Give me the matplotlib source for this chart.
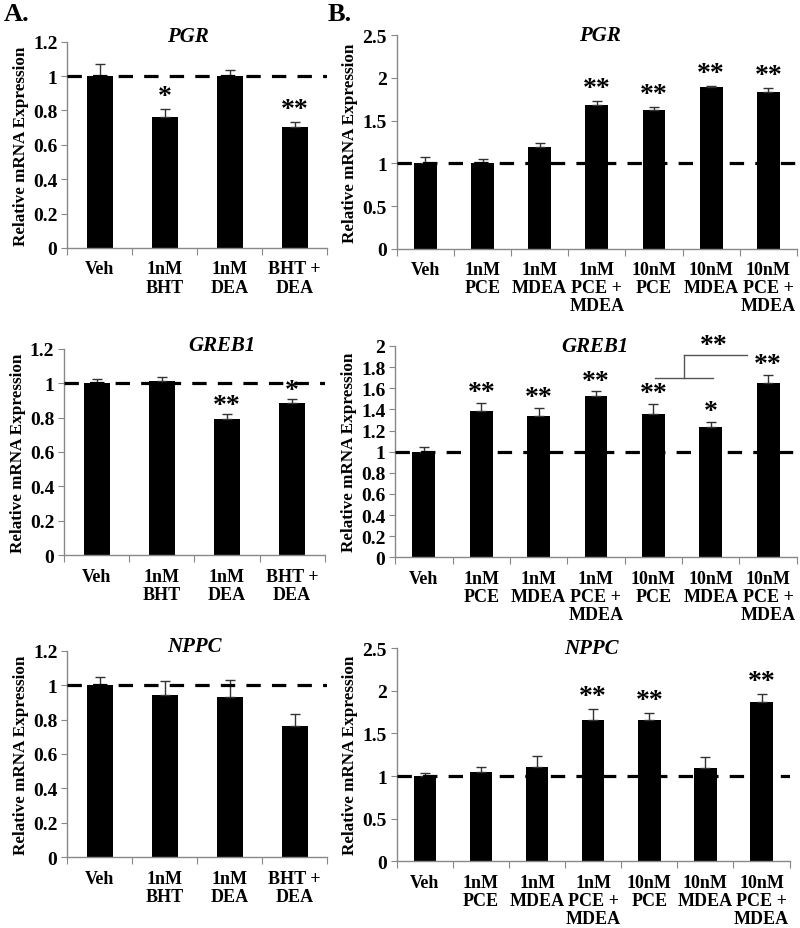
import matplotlib
matplotlib.use("Agg")
import matplotlib.pyplot as plt
import numpy as np

plt.rcParams['font.family'] = ['Liberation Serif', 'DejaVu Serif']
plt.rcParams['font.weight'] = 'bold'

# ---------------- data ----------------
cats_A = ["Veh", "1nM\nBHT", "1nM\nDEA", "BHT +\nDEA"]
cats_B = ["Veh", "1nM\nPCE", "1nM\nMDEA", "1nM\nPCE +\nMDEA",
          "10nM\nPCE", "10nM\nMDEA", "10nM\nPCE +\nMDEA"]

pgr_A = [1.00, 0.76, 1.00, 0.705]
pgr_A_err = [0.07, 0.05, 0.035, 0.028]
pgr_A_sig = ["", "*", "", "**"]

greb1_A = [1.00, 1.013, 0.79, 0.887]
greb1_A_err = [0.025, 0.025, 0.03, 0.018]
greb1_A_sig = ["", "", "**", "*"]

nppc_A = [1.00, 0.943, 0.93, 0.765]
nppc_A_err = [0.05, 0.08, 0.10, 0.068]
nppc_A_sig = ["", "", "", ""]

pgr_B = [1.00, 1.00, 1.19, 1.68, 1.62, 1.89, 1.83]
pgr_B_err = [0.077, 0.05, 0.045, 0.05, 0.045, 0.02, 0.05]
pgr_B_sig = ["", "", "", "**", "**", "**", "**"]

greb1_B = [1.00, 1.38, 1.34, 1.53, 1.355, 1.23, 1.65]
greb1_B_err = [0.045, 0.08, 0.07, 0.04, 0.10, 0.05, 0.08]
greb1_B_sig = ["", "**", "**", "**", "**", "*", "**"]

nppc_B = [1.00, 1.045, 1.11, 1.66, 1.66, 1.10, 1.875]
nppc_B_err = [0.035, 0.06, 0.125, 0.13, 0.085, 0.125, 0.085]
nppc_B_sig = ["", "", "", "**", "**", "", "**"]

fig = plt.figure(figsize=(8.0, 9.29), dpi=100)

GRAY = "#888888"
TICK_FS = 13
STAR_FS = 20


def panel(rect, cats, vals, errs, sigs, title, tpos, ymax, ystep, star_off):
    ax = fig.add_axes(rect)
    n = len(cats)
    x = np.arange(n)
    ax.bar(x, vals, width=0.4, color="black", zorder=2)
    ax.errorbar(x, vals, yerr=[np.zeros(n), errs], fmt="none",
                ecolor="#333333", elinewidth=1.0, capsize=3.5, capthick=1.0, zorder=3)
    ax.axhline(1.0, color="black", lw=2.3, ls=(0, (4.5, 3.5)), zorder=4)
    for xi, v, e, s in zip(x, vals, errs, sigs):
        if s:
            ax.text(xi, v + e + star_off, s, ha="center", va="bottom",
                    fontsize=STAR_FS, fontweight="bold", zorder=5)
    ax.set_xlim(-0.5, n - 0.5)
    ax.set_ylim(0, ymax)
    ticks = np.round(np.arange(0, ymax + 1e-9, ystep), 2)
    ax.set_yticks(ticks)
    ax.set_yticklabels([("%g" % t) for t in ticks], fontsize=14, fontweight="bold")
    ax.set_xticks(np.arange(n + 1) - 0.5)
    ax.set_xticklabels([])
    ax.set_xticks(x, minor=True)
    ax.set_xticklabels(cats, minor=True, fontsize=TICK_FS, fontweight="bold",
                       linespacing=1.08, va="top")
    ax.tick_params(axis="x", which="minor", length=0, pad=9)
    ax.tick_params(axis="x", which="major", length=5, color=GRAY, direction="out")
    ax.tick_params(axis="y", length=4, color=GRAY, direction="out", pad=3)
    for sp in ["top", "right"]:
        ax.spines[sp].set_visible(False)
    for sp in ["left", "bottom"]:
        ax.spines[sp].set_color(GRAY)
        ax.spines[sp].set_linewidth(1.0)
    ax.set_ylabel("Relative mRNA Expression", fontsize=12.3, fontweight="bold",
                  labelpad=3)
    ax.text(tpos[0], tpos[1], title, transform=ax.transAxes, ha="center",
            va="center", fontsize=15, fontweight="bold", style="italic",
            clip_on=False, zorder=6)
    return ax


axA1 = panel([0.084, 0.732, 0.325, 0.222], cats_A, pgr_A, pgr_A_err, pgr_A_sig,
             "PGR", (0.465, 1.03), 1.2, 0.2, 0.0)
axA2 = panel([0.080, 0.4015, 0.326, 0.222], cats_A, greb1_A, greb1_A_err, greb1_A_sig,
             "GREB1", (0.605, 1.02), 1.2, 0.2, -0.02)
axA3 = panel([0.084, 0.0764, 0.325, 0.222], cats_A, nppc_A, nppc_A_err, nppc_A_sig,
             "NPPC", (0.49, 1.025), 1.2, 0.2, 0.0)

axB1 = panel([0.496, 0.731, 0.500, 0.230], cats_B, pgr_B, pgr_B_err, pgr_B_sig,
             "PGR", (0.507, 1.0), 2.5, 0.5, 0.0)
axB2 = panel([0.494, 0.399, 0.502, 0.2275], cats_B, greb1_B, greb1_B_err, greb1_B_sig,
             "GREB1", (0.498, 1.0), 2.0, 0.2, -0.02)
axB3 = panel([0.496, 0.072, 0.491, 0.229], cats_B, nppc_B, nppc_B_err, nppc_B_sig,
             "NPPC", (0.496, 1.0), 2.5, 0.5, 0.0)

# comparison bracket in GREB1 (B)
bracket_lo = 1.70
bracket_hi = 1.915
axB2.plot([4.03, 5.04], [bracket_lo, bracket_lo], color="#555555", lw=1.0, zorder=5)
axB2.plot([4.54, 4.54], [bracket_lo, bracket_hi], color="#555555", lw=1.0, zorder=5)
axB2.plot([4.54, 5.63], [bracket_hi, bracket_hi], color="#555555", lw=1.0, zorder=5)
axB2.text(5.05, bracket_hi - 0.03, "**", ha="center", va="bottom", fontsize=STAR_FS,
          fontweight="bold", clip_on=False)

fig.text(0.005, 0.997, "A.", fontsize=19, fontweight="bold", ha="left", va="top")
fig.text(0.410, 0.997, "B.", fontsize=19, fontweight="bold", ha="left", va="top")

fig.savefig("out.png", dpi=100)
